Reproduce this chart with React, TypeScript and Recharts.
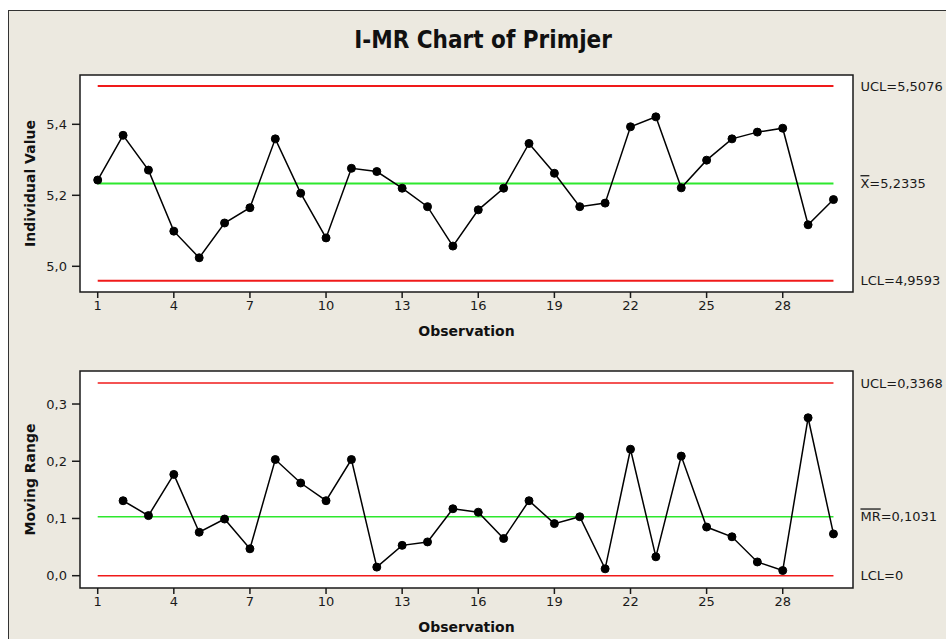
import React from "react";
import {
  ComposedChart,
  Line,
  XAxis,
  YAxis,
  ReferenceLine,
  ReferenceArea,
} from "recharts";

const FONT = "'DejaVu Sans', Verdana, sans-serif";

const observations = [
  1, 2, 3, 4, 5, 6, 7, 8, 9, 10, 11, 12, 13, 14, 15, 16, 17, 18, 19, 20, 21,
  22, 23, 24, 25, 26, 27, 28, 29, 30,
];
const individualValues = [
  5.243, 5.369, 5.271, 5.099, 5.024, 5.122, 5.165, 5.359, 5.206, 5.08, 5.276,
  5.267, 5.22, 5.168, 5.057, 5.159, 5.22, 5.346, 5.262, 5.168, 5.178, 5.393,
  5.421, 5.221, 5.299, 5.359, 5.378, 5.389, 5.117, 5.188,
];
const movingRanges = [
  null, 0.131, 0.105, 0.177, 0.076, 0.099, 0.047, 0.203, 0.162, 0.131, 0.203,
  0.015, 0.053, 0.059, 0.117, 0.111, 0.065, 0.131, 0.091, 0.103, 0.012, 0.221,
  0.033, 0.209, 0.085, 0.068, 0.024, 0.009, 0.276, 0.073,
];

const xTicks = [1, 4, 7, 10, 13, 16, 19, 22, 25, 28];
const iTicks = [5.0, 5.2, 5.4];
const mrTicks = [0, 0.1, 0.2, 0.3];

// control limits: [UCL, centre, LCL]
const iLimits = [5.5076, 5.2335, 4.9593];
const mrLimits = [0.3368, 0.1031, 0];

const xDomain = [0.302, 30.77];
const iDomain = [4.9276, 5.5389];
const mrDomain = [-0.0215, 0.3577];

const iData = observations.map((obs, i) => ({ obs, value: individualValues[i] }));
const mrData = observations.map((obs, i) => ({ obs, value: movingRanges[i] }));

const comma = (v: number) => v.toFixed(1).replace(".", ",");
const comma4 = (v: number) => (v === 0 ? "0" : v.toFixed(4).replace(".", ","));

function sideLabel(name: string, value: number, bar: boolean) {
  return (props: any) => {
    const vb = props.viewBox || {};
    const x = (vb.x ?? 0) + (vb.width ?? 0) + 27;
    const y = vb.y ?? 0;
    return (
      <text x={x} y={y} dy="0.36em" fontSize={13} fill="#1a1a1a" fontFamily={FONT}>
        <tspan style={{ textDecoration: bar ? "overline" : "none" }}>{name}</tspan>
        <tspan>{"=" + comma4(value)}</tspan>
      </text>
    );
  };
}

const tickStyle = { fontSize: 13, fill: "#1a1a1a", fontFamily: FONT };
const axisTitle = { fontSize: 14, fontWeight: "bold", fill: "#111", fontFamily: FONT };

function ControlPanel({
  data,
  domain,
  yTicks,
  limits,
  yTitle,
  centreName,
  top,
  lineWidth,
}: {
  data: { obs: number; value: number | null }[];
  domain: number[];
  yTicks: number[];
  limits: number[];
  yTitle: string;
  centreName: string;
  top: number;
  lineWidth: number;
}) {
  return (
    <div style={{ position: "absolute", left: 0, top }}>
      <ComposedChart
        width={946}
        height={345}
        data={data}
        margin={{ top: 75, right: 93, bottom: 0, left: 0 }}
      >
        <ReferenceArea
          x1={xDomain[0]}
          x2={xDomain[1]}
          y1={domain[0]}
          y2={domain[1]}
          fill="#ffffff"
          fillOpacity={1}
          stroke="#1a1a1a"
          strokeWidth={1.5}
        />
        <XAxis
          dataKey="obs"
          type="number"
          domain={xDomain}
          ticks={xTicks}
          allowDataOverflow
          axisLine={false}
          tickLine={{ stroke: "#1a1a1a", strokeWidth: 1.5 }}
          tickSize={6}
          tickMargin={3}
          tick={tickStyle}
          height={53}
          label={{
            value: "Observation",
            position: "insideBottom",
            offset: 9,
            style: axisTitle,
          }}
        />
        <YAxis
          type="number"
          domain={domain}
          ticks={yTicks}
          allowDataOverflow
          axisLine={false}
          tickLine={{ stroke: "#1a1a1a", strokeWidth: 1.5 }}
          tickSize={8}
          tickMargin={5}
          tick={tickStyle}
          tickFormatter={comma}
          width={80}
          label={{
            value: yTitle,
            angle: -90,
            position: "insideLeft",
            offset: 30,
            style: { ...axisTitle, textAnchor: "middle" },
          }}
        />
        <ReferenceLine
          segment={[
            { x: 1, y: limits[0] },
            { x: 30, y: limits[0] },
          ]}
          stroke="#f01a1a"
          strokeWidth={lineWidth}
          label={sideLabel("UCL", limits[0], false)}
        />
        <ReferenceLine
          segment={[
            { x: 1, y: limits[1] },
            { x: 30, y: limits[1] },
          ]}
          stroke="#2de82d"
          strokeWidth={lineWidth}
          label={sideLabel(centreName, limits[1], true)}
        />
        <ReferenceLine
          segment={[
            { x: 1, y: limits[2] },
            { x: 30, y: limits[2] },
          ]}
          stroke="#f01a1a"
          strokeWidth={lineWidth}
          label={sideLabel("LCL", limits[2], false)}
        />
        <Line
          dataKey="value"
          stroke="#000"
          strokeWidth={1.5}
          dot={{ r: 4, fill: "#000", stroke: "#000", strokeWidth: 1 }}
          isAnimationActive={false}
          connectNulls={false}
        />
      </ComposedChart>
    </div>
  );
}

export default function App() {
  return (
    <div
      style={{
        position: "absolute",
        left: 0,
        top: 0,
        width: 946,
        height: 639,
        background: "#fff",
        overflow: "hidden",
      }}
    >
      <div
        style={{
          position: "absolute",
          left: 8,
          top: 10,
          width: 980,
          height: 680,
          border: "1.5px solid #333",
          background: "#ECE9E0",
        }}
      />
      <div
        style={{
          position: "absolute",
          left: 0,
          top: 24,
          width: 966,
          textAlign: "center",
          fontFamily: FONT,
          fontWeight: "bold",
          fontSize: 24,
          fontStretch: "condensed",
          color: "#111",
          lineHeight: "32px",
        }}
      >
        I-MR Chart of Primjer
      </div>
      <ControlPanel
        data={iData}
        domain={iDomain}
        yTicks={iTicks}
        limits={iLimits}
        yTitle="Individual Value"
        centreName="X"
        top={0}
        lineWidth={2}
      />
      <ControlPanel
        data={mrData}
        domain={mrDomain}
        yTicks={mrTicks}
        limits={mrLimits}
        yTitle="Moving Range"
        centreName="MR"
        top={296}
        lineWidth={1.5}
      />
    </div>
  );
}
